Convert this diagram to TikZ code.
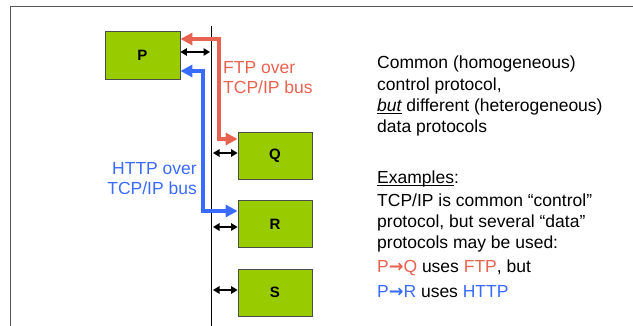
\documentclass[tikz,border=0pt]{standalone}
\usepackage{fontspec}
\setmainfont{Liberation Sans}
\newfontfamily\arrowfont{DejaVu Sans}
\usetikzlibrary{arrows.meta}
\definecolor{boxgreen}{HTML}{99CC00}
\definecolor{ftpred}{HTML}{E8634F}
\definecolor{httpblue}{HTML}{3A6BFF}
\definecolor{framegray}{HTML}{555555}
\newcommand\myul[1]{\setbox0\hbox{#1}\rlap{\rule[-1.8pt]{\wd0}{1pt}}\box0\relax}
\newcommand\myarrow{{\arrowfont\bfseries →}}
\begin{document}
\begin{tikzpicture}[x=1pt,y=-1pt,
  host/.style={draw=black!70, line width=0.8pt, fill=boxgreen, minimum width=75pt, minimum height=48pt, inner sep=0pt, font=\fontsize{15}{17}\selectfont\bfseries},
  txt/.style={inner sep=0pt, anchor=base west, font=\fontsize{17.5}{21}\selectfont},
  txtr/.style={txt, anchor=base east},
  tap/.style={{Triangle[length=6.5pt,width=7.5pt]}-{Triangle[length=6.5pt,width=7.5pt]}, line width=1.4pt},
  flow/.style={{Triangle[length=12pt,width=12pt]}-{Triangle[length=12pt,width=12pt]}, line width=3.3pt}]
\useasboundingbox (0,0) rectangle (633,326);
% frame
\coordinate (f1) at (10.7,326);
\coordinate (f2) at (10.7,6.3);
\coordinate (f3) at (633,6.3);
\draw[framegray, line width=1.3pt] (f1) -- (f2) -- (f3);
% bus
\coordinate (bustop) at (211.5,26);
\coordinate (busbot) at (211.5,326);
\draw[line width=1.5pt] (bustop) -- (busbot);
% hosts
\node[host] (P) at (142.5,55) {P};
\node[host, minimum width=74pt, minimum height=47pt] (Q) at (275,155.5) {Q};
\node[host, minimum width=74pt, minimum height=47pt] (R) at (275,224) {R};
\node[host, minimum width=74pt, minimum height=47pt] (S) at (275,292.5) {S};
% taps
\coordinate (bP) at (210,52);
\coordinate (bQ) at (213,153);
\coordinate (bR) at (213,227);
\coordinate (bS) at (213,290);
\draw[tap] (P.east |- bP) -- (bP);
\draw[tap] (bQ) -- (Q.west |- bQ);
\draw[tap] (bR) -- (R.west |- bR);
\draw[tap] (bS) -- (S.west |- bS);
% FTP flow
\coordinate (r1) at (219,39);
\coordinate (r2) at (219,139);
\draw[flow, ftpred] (P.east |- r1) -- (r1) -- (r2) -- (Q.west |- r2);
% HTTP flow
\coordinate (b1) at (203,71);
\coordinate (b2) at (203,211);
\draw[flow, httpblue] (P.east |- b1) -- (b1) -- (b2) -- (R.west |- b2);
% flow labels
\node[txt, text=ftpred] (ftp1) at (223,74) {FTP over};
\node[txt, text=ftpred] (ftp2) at (223,94) {TCP/IP bus};
\node[txtr, text=httpblue] (http1) at (197,175) {HTTP over};
\node[txtr, text=httpblue] (http2) at (197,195) {TCP/IP bus};
% right text
\node[txt] (t1) at (377,69) {Common (homogeneous)};
\node[txt] (t2) at (377,91) {control protocol,};
\node[txt] (t3) at (377,112) {\myul{\itshape but} different (heterogeneous)};
\node[txt] (t4) at (377,133) {data protocols};
\node[txt] (e1) at (377,184) {\myul{Examples}:};
\node[txt] (e2) at (377,207) {TCP/IP is common “control”};
\node[txt] (e3) at (377,228) {protocol, but several “data”};
\node[txt] (e4) at (377,249) {protocols may be used:};
\node[txt] (e5) at (377,273) {{\color{ftpred}P\myarrow Q} uses {\color{ftpred}FTP}, but};
\node[txt] (e6) at (377,298) {{\color{httpblue}P\myarrow R} uses {\color{httpblue}HTTP}};
\end{tikzpicture}
\end{document}
